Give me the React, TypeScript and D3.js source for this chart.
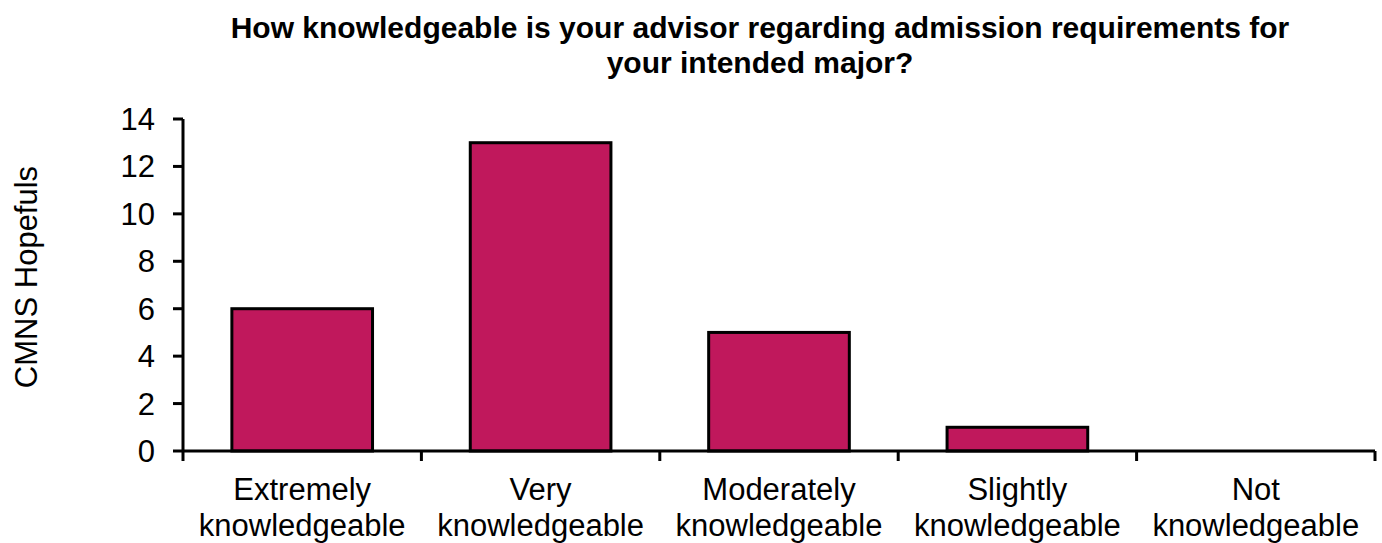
import React from "react";
import * as d3 from "d3";

const categories = [
  ["Extremely", "knowledgeable"],
  ["Very", "knowledgeable"],
  ["Moderately", "knowledgeable"],
  ["Slightly", "knowledgeable"],
  ["Not", "knowledgeable"],
];
const values = [6, 13, 5, 1, 0];
const yTicks = [0, 2, 4, 6, 8, 10, 12, 14];
const titleLines = [
  "How knowledgeable is your advisor regarding admission requirements for",
  "your intended major?",
];
const yLabel = "CMNS Hopefuls";

export default function App() {
  const W = 1382, H = 543;
  const left = 183, right = 1375, top = 119, bottom = 451;
  const keys = categories.map((_, i) => String(i));
  const x = d3.scaleBand<string>().domain(keys).range([left, right]).paddingInner(0.41).paddingOuter(0.205);
  const xOuter = d3.scaleBand<string>().domain(keys).range([left, right]);
  const y = d3.scaleLinear().domain([0, 14]).range([bottom, top]);
  const font = "Liberation Sans, Arial, sans-serif";
  return (
    <svg width={W} height={H} style={{ position: "absolute", left: 0, top: 0 }} fontFamily={font}>
      <rect width={W} height={H} fill="#fff" />
      <text x={760} textAnchor="middle" fontWeight="bold" fontSize={30}>
        {titleLines.map((t, i) => (
          <tspan key={i} x={760} y={38 + i * 35}>{t}</tspan>
        ))}
      </text>
      <text transform={`translate(37,${277}) rotate(-90)`} textAnchor="middle" fontSize={31}>{yLabel}</text>
      {values.map((v, i) => (
        v > 0 ? (
          <rect key={i} x={x(String(i))} y={y(v)} width={x.bandwidth()} height={y(0) - y(v)}
            fill="#C0185C" stroke="#000" strokeWidth={3} />
        ) : null
      ))}
      <line x1={left} x2={left} y1={top} y2={bottom} stroke="#000" strokeWidth={3} />
      {yTicks.map(t => (
        <g key={t}>
          <line x1={left - 10} x2={left} y1={y(t)} y2={y(t)} stroke="#000" strokeWidth={3} />
          <text x={left - 28} y={y(t) + 11} textAnchor="end" fontSize={31}>{t}</text>
        </g>
      ))}
      <line x1={left} x2={right} y1={bottom} y2={bottom} stroke="#000" strokeWidth={3} />
      {keys.concat(["5"]).map((k, i) => {
        const xx = left + i * xOuter.step();
        return <line key={k} x1={xx} x2={xx} y1={bottom} y2={bottom + 10} stroke="#000" strokeWidth={3} />;
      })}
      {categories.map((c, i) => {
        const cx = (xOuter(String(i)) as number) + xOuter.bandwidth() / 2;
        return (
          <text key={i} textAnchor="middle" fontSize={31}>
            {c.map((l, j) => <tspan key={j} x={cx} y={500 + j * 36}>{l}</tspan>)}
          </text>
        );
      })}
    </svg>
  );
}
